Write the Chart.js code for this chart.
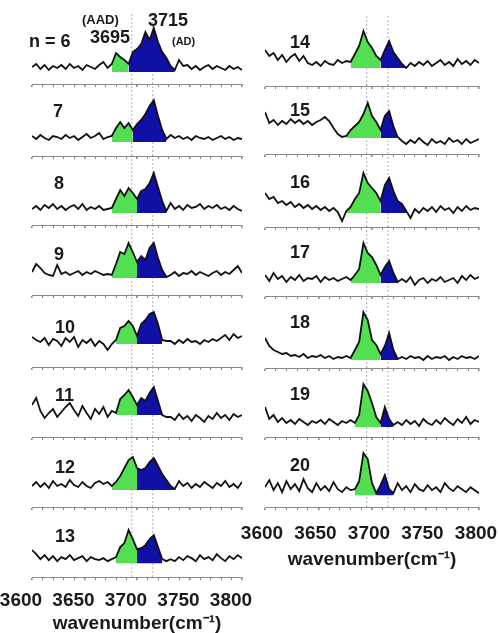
<!DOCTYPE html>
<html><head><meta charset="utf-8">
<script src="https://cdn.jsdelivr.net/npm/chart.js@4"></script>
<style>
html,body{margin:0;padding:0;background:#fff;overflow:hidden;width:498px;height:633px;}
#wrap{position:relative;width:498px;height:633px;overflow:hidden;}
canvas{position:absolute;}
.lbl{position:absolute;font-family:"Liberation Sans",Arial,sans-serif;font-weight:bold;color:#1a1a1a;white-space:nowrap;line-height:1;}
</style></head><body><div id="wrap"></div>
<script>
// ---------- data ----------
const wavenumbers = [3600,3604,3608,3612,3616,3620,3624,3628,3632,3636,3640,3644,3648,3652,3656,3660,3664,3668,3672,3676,3680,3684,3688,3692,3696,3700,3704,3708,3712,3716,3720,3724,3728,3732,3736,3740,3744,3748,3752,3756,3760,3764,3768,3772,3776,3780,3784,3788,3792,3796,3800];
const xTickLabels = [3600,3650,3700,3750,3800];
const peakRefs = [3695,3715];
const panelLabels = ['n = 6','7','8','9','10','11','12','13','14','15','16','17','18','19','20'];

const spec6  = [5,8,3,7,2,6,4,7,3,8,4,6,2,7,5,3,7,10,4,8,19,15,12,8,20,23,28,40,32,44,30,20,14,6,2,12,6,7,3,6,2,5,7,3,6,4,2,6,3,5,2];
const spec7  = [6,3,7,4,2,6,5,3,7,4,6,2,5,8,4,6,9,3,5,6,14,20,14,19,12,18,22,28,36,42,26,12,3,7,4,6,3,5,2,6,4,3,5,2,4,6,3,5,2,4,3];
const spec8  = [4,7,3,8,5,9,4,7,3,6,8,4,9,3,6,4,7,3,4,5,14,23,17,25,20,14,22,24,30,40,26,12,2,10,4,7,3,8,5,6,9,4,7,5,8,4,6,3,7,4,2];
const spec9  = [6,14,10,5,3,2,13,4,6,3,5,7,3,6,4,7,5,3,4,3,14,26,24,35,26,16,22,18,30,35,20,8,1,3,6,2,5,4,7,3,6,4,2,5,7,3,6,4,8,12,5];
const spec10 = [7,4,2,6,-1,5,3,-2,6,2,7,-3,4,1,5,-2,3,0,-6,0,4,16,18,23,18,8,20,24,30,32,20,4,3,3,0,4,1,5,2,3,0,4,2,5,3,6,9,4,10,6,8];
const spec11 = [10,17,4,-3,2,6,-2,3,8,12,5,-1,9,2,-4,6,1,8,-2,4,2,16,20,25,18,10,17,14,22,28,14,0,-2,-2,-5,1,-4,-1,-6,0,-3,-7,-1,-4,2,-3,0,-5,1,-2,0];
const spec12 = [4,8,3,7,2,9,4,6,3,10,5,3,8,4,2,7,9,6,8,4,8,14,22,30,33,22,20,22,28,32,24,16,10,4,1,9,4,7,2,6,3,8,5,2,7,4,9,3,6,2,8];
const spec13 = [13,9,4,8,3,7,2,6,4,8,3,5,7,2,6,4,3,5,2,4,6,16,20,33,24,14,15,18,24,28,16,4,2,4,2,6,3,7,5,2,8,4,6,3,9,5,2,7,4,8,5];
const spec14 = [18,12,15,8,13,6,11,14,7,12,5,3,6,2,7,4,3,8,5,7,6,14,22,37,26,20,12,8,18,27,16,10,4,0,5,2,6,3,7,2,5,8,3,6,2,9,4,7,3,8,5];
const spec15 = [26,15,18,13,17,14,19,15,18,14,17,13,16,18,21,17,10,4,1,2,8,12,16,24,35,22,16,8,22,27,12,1,-3,-6,-2,-5,0,-4,-7,-1,-5,-3,-6,0,-4,-2,-6,-1,-5,-3,-1];
const spec16 = [20,14,16,10,12,8,11,6,9,5,8,4,7,3,6,2,5,1,-8,2,6,14,20,40,30,25,20,12,28,35,22,12,9,2,-5,4,0,5,2,6,1,7,3,5,0,6,2,7,3,5,4];
const spec17 = [8,2,10,4,7,1,6,3,8,2,5,4,7,1,6,3,5,2,4,6,3,8,14,40,30,26,18,8,16,22,10,1,4,1,6,-2,3,5,0,4,2,6,1,3,5,0,7,3,8,4,6];
const spec18 = [22,14,10,8,6,7,4,5,3,6,2,4,3,5,2,4,1,3,2,4,2,10,18,48,40,20,15,6,14,27,10,1,3,1,4,2,3,0,4,1,3,2,4,0,3,1,4,2,3,1,4];
const spec19 = [20,8,12,5,9,4,7,3,8,5,2,6,4,7,3,8,5,2,6,4,7,4,12,43,36,24,10,4,20,8,2,5,2,7,3,6,1,8,4,2,7,3,9,5,2,8,4,10,3,7,5];
const spec20 = [8,15,5,12,3,14,6,11,4,16,7,3,12,5,9,4,13,6,3,8,5,6,14,42,36,12,2,10,20,6,2,12,5,9,3,11,6,4,10,5,8,3,12,7,4,9,6,3,8,5,2];

const greenStart = [3676,3676,3676,3676,3680,3680,3676,3680,3680,3676,3676,3680,3680,3684,3684];
const blueStart  = [3692,3696,3700,3700,3700,3700,3700,3700,3708,3708,3708,3708,3708,3708,3704];
const blueEnd    = [3736,3728,3728,3728,3724,3724,3736,3724,3732,3724,3732,3724,3724,3720,3720];
const baselineOffset = [0,2,0,5,11,10,5,2,6,4,2,1,-4,-2,0];

const spectra = [spec6,spec7,spec8,spec9,spec10,spec11,spec12,spec13,spec14,spec15,spec16,spec17,spec18,spec19,spec20];

// ---------- layout / style ----------
const FONT = "'Liberation Sans', Arial, sans-serif";
const GREEN = '#52e052';
const BLUE = '#1010a6';
const Y_MIN = -12, Y_MAX = 58;
const PLOT_H = 70, TL = 3, FS = 19, TITLE_LH = FS*1.2;
const leftAxisY  = [84,156,225,295,367,437,507,577];
const rightAxisY = [86,154,227,296,368,437,507];
const cols = [
  {x0:0,   w:266, padL:32, padR:24, tickLH:42, titleTop:-10, labelOffset:-11},
  {x0:240, w:264, padL:25, padR:25, tickLH:48, titleTop:-10, labelOffset:-3}
];
const labelPos = [[29,41],[53,111],[54,183],[54,254],[55,327],[55,395],[55,467],[55,536],
                  [290,42],[290,110],[290,182],[290,252],[290,322],[290,394],[290,465]];

const wrap = document.getElementById('wrap');

function addText(txt, left, cy, size){
  const d = document.createElement('div');
  d.className = 'lbl';
  d.textContent = txt;
  d.style.fontSize = size + 'px';
  d.style.left = left + 'px';
  d.style.top = (cy - size*0.49) + 'px';
  wrap.appendChild(d);
}

function makePanel(idx, colIdx, axisY, isBottom){
  const col = cols[colIdx];
  const extra = isBottom ? col.tickLH + (TITLE_LH + col.titleTop) : 0;
  const H = Math.round(PLOT_H + TL + extra);
  const c = document.createElement('canvas');
  c.width = col.w; c.height = H;
  c.style.width = col.w + 'px'; c.style.height = H + 'px';
  c.style.left = col.x0 + 'px';
  c.style.top = (axisY - PLOT_H) + 'px';
  wrap.appendChild(c);

  const off = baselineOffset[idx];
  const ys = spectra[idx].map(v => v + off);
  const line = wavenumbers.map((w,i)=>({x:w, y:ys[i]}));
  const green = wavenumbers.map((w,i)=>({x:w, y:(w>=greenStart[idx] && w<=blueStart[idx]) ? ys[i] : null}));
  const blue  = wavenumbers.map((w,i)=>({x:w, y:(w>=blueStart[idx] && w<=blueEnd[idx]) ? ys[i] : null}));
  const refSets = peakRefs.map(p => ({
    data:[{x:p,y:Y_MIN},{x:p,y:Y_MAX}], borderColor:'rgba(120,120,160,0.6)', borderWidth:1,
    borderDash:[2,2], pointRadius:0, fill:false, order:3
  }));

  new Chart(c, {
    type:'line',
    data:{datasets:[
      {data:line, borderColor:'#111', borderWidth:1.8, pointRadius:0, fill:false, tension:0, order:0},
      {data:green, borderWidth:0, borderColor:'rgba(0,0,0,0)', backgroundColor:GREEN, fill:{value:off}, pointRadius:0, spanGaps:false, order:1},
      {data:blue, borderWidth:0, borderColor:'rgba(0,0,0,0)', backgroundColor:BLUE, fill:{value:off}, pointRadius:0, spanGaps:false, order:2},
      ...refSets
    ]},
    options:{
      responsive:false, animation:false, events:[],
      layout:{autoPadding:false, padding:{left:col.padL, right:col.padR, top:0, bottom:0}},
      plugins:{legend:{display:false}, tooltip:{enabled:false}},
      scales:{
        x:{type:'linear', min:3600, max:3800,
           border:{display:true, color:'#8a8a8a', width:1},
           grid:{display:true, drawOnChartArea:false, drawTicks:true, tickLength:TL, color:'#8a8a8a',
                 lineWidth: ctx => (ctx.tick && ctx.tick.value % 50 === 0) ? 1.6 : 1},
           ticks:{display:isBottom, stepSize:10, autoSkip:false, maxRotation:0, minRotation:0,
                  padding:0, labelOffset:col.labelOffset, color:'#1a1a1a',
                  font:{family:FONT, size:FS, weight:'bold', lineHeight: col.tickLH + 'px'},
                  callback: v => xTickLabels.includes(v) ? String(v) : ''},
           title:{display:isBottom, text:'wavenumber(cm\u207B\u00B9)', color:'#1a1a1a',
                  font:{family:FONT, size:FS, weight:'bold'}, padding:{top:col.titleTop, bottom:0}}
        },
        y:{display:false, min:Y_MIN, max:Y_MAX}
      }
    }
  });
}

leftAxisY.forEach((ay,i)=> makePanel(i, 0, ay, i === leftAxisY.length-1));
rightAxisY.forEach((ay,i)=> makePanel(8+i, 1, ay, i === rightAxisY.length-1));

panelLabels.forEach((t,i)=> addText(t, labelPos[i][0], labelPos[i][1], 18));
addText('(AAD)', 82, 19, 13);
addText('3715', 148, 20, 18);
addText('3695', 90, 37, 18);
addText('(AD)', 172, 41, 11);
</script>
</body></html>
